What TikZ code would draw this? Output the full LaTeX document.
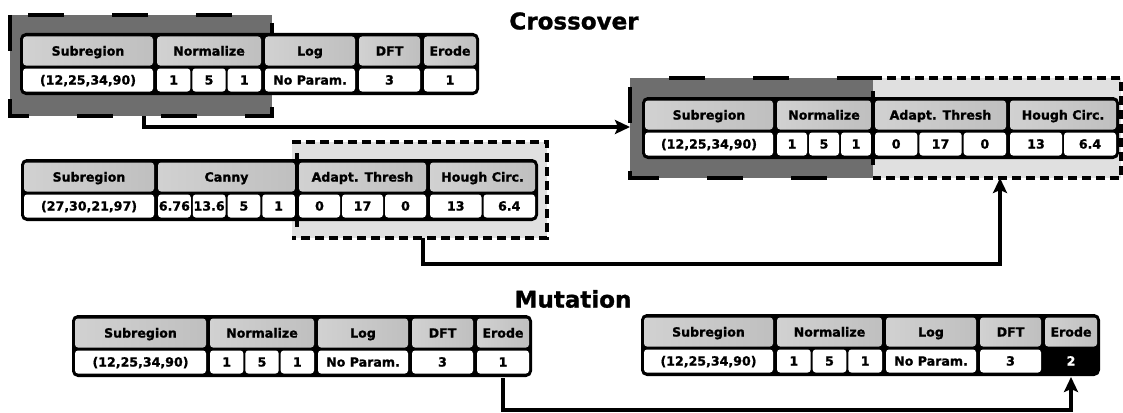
\documentclass[tikz,border=0pt]{standalone}
\usepackage{fontspec}
\setmainfont{DejaVu Sans}[BoldFeatures={FakeBold=1.2}]
\usetikzlibrary{arrows.meta}
\usetikzlibrary{positioning}
\usetikzlibrary{calc}

\tikzset{
  chromo/.style={fill=black, draw=black, line width=2pt, rounded corners=5pt},
  headcell/.style={left color=black!18, right color=black!25, rounded corners=3pt},
  valcell/.style={fill=white, rounded corners=3pt},
  genetext/.style={inner sep=0pt, text height=9.1pt, text depth=0pt,
    font=\fontsize{12.6}{14}\selectfont\bfseries},
  valtext/.style={genetext},
  darkbox/.style={fill=black!57},
  lightbox/.style={fill=black!12},
  longdash/.style={line width=4pt, dash pattern=on 36pt off 48pt},
  shortdash/.style={line width=4pt, dash pattern=on 9pt off 5pt},
  flow/.style={line width=4pt, -{Stealth[length=15pt,width=14pt,inset=3pt]}},
  title/.style={inner sep=0pt, font=\fontsize{23}{26}\selectfont\bfseries},
}

% \gene{name}{left}{right}{top}{header}{number of cells}{values}
\newcommand{\gene}[7]{%
  \pgfmathsetmacro{\geneL}{#2+2}%
  \pgfmathsetmacro{\geneR}{#3-2}%
  \path[headcell] (\geneL,#4+2.5) rectangle (\geneR,#4+31.5);
  \node[genetext] (#1-h) at ({(#2+#3)/2},#4+17) {#5};
  \pgfmathsetmacro{\cellW}{(\geneR-\geneL-(#6-1)*2)/#6}%
  \foreach \v [count=\i from 0] in {#7} {
    \pgfmathsetmacro{\cellL}{\geneL+\i*(\cellW+2)}
    \pgfmathsetmacro{\cellR}{\cellL+\cellW}
    \path[valcell] (\cellL,#4+34.5) rectangle (\cellR,#4+57.5);
    \node[valtext] (#1-\i) at ({(\cellL+\cellR)/2},#4+46) {\v};
  }%
}

\begin{document}
\begin{tikzpicture}[x=1pt,y=-1pt]
  \useasboundingbox (0,0) rectangle (1123,412);

  \node[title] (xtitle) at (574,21) {Crossover};
  \node[title] (mtitle) at (573,299) {Mutation};

  % first parent, head part kept
  \path[darkbox] (10,15) rectangle (272,116);
  \draw[longdash] (10,15) rectangle (272,116);
  \path[chromo] (21,34) rectangle (478,94);
  \gene{pa}{21}{155}{34}{Subregion}{1}{{(12,25,34,90)}}
  \gene{pb}{155}{263}{34}{Normalize}{3}{1,5,1}
  \gene{pc}{263}{357}{34}{Log}{1}{No Param.}
  \gene{pd}{357}{422}{34}{DFT}{1}{3}
  \gene{pe}{422}{478}{34}{Erode}{1}{1}
  \coordinate (p1out) at (144,116);

  % second parent, tail part kept
  \path[lightbox] (292,142) rectangle (547,238);
  \draw[shortdash] (292,142) -- (547,142) -- (547,238) -- (292,238);
  \path[chromo] (22,160) rectangle (537,220);
  \gene{qa}{22}{156}{160}{Subregion}{1}{{(27,30,21,97)}}
  \gene{qb}{156}{297}{160}{Canny}{4}{6.76,13.6,5,1}
  \gene{qc}{297}{428}{160}{Adapt. Thresh}{3}{0,17,0}
  \gene{qd}{428}{537}{160}{Hough Circ.}{2}{13,6.4}
  \draw[line width=4pt] (297,153) -- (297,227);
  \coordinate (p2out) at (423,238);

  % child
  \path[darkbox] (630,78) rectangle (873,178);
  \path[lightbox] (873,78) rectangle (1121,178);
  \draw[longdash] (873,78) -- (630,78) -- (630,178) -- (873,178);
  \draw[shortdash] (873,78) -- (1121,78) -- (1121,178) -- (873,178);
  \path[chromo] (643,98) rectangle (1118,158);
  \gene{ca}{643}{775}{98}{Subregion}{1}{{(12,25,34,90)}}
  \gene{cb}{775}{873}{98}{Normalize}{3}{1,5,1}
  \gene{cc}{873}{1008}{98}{Adapt. Thresh}{3}{0,17,0}
  \gene{cd}{1008}{1118}{98}{Hough Circ.}{2}{13,6.4}
  \draw[line width=4pt] (873,91) -- (873,165);
  \coordinate (c1in) at (630,127);
  \coordinate (c2in) at (1000,178);

  \draw[flow] (p1out) |- (c1in);
  \draw[flow] (p2out) -- ++(0,26) -| (c2in);

  % mutation: before
  \path[chromo] (73,316) rectangle (531,376);
  \gene{ma}{73}{208}{316}{Subregion}{1}{{(12,25,34,90)}}
  \gene{mb}{208}{316}{316}{Normalize}{3}{1,5,1}
  \gene{mc}{316}{410}{316}{Log}{1}{No Param.}
  \gene{md}{410}{475}{316}{DFT}{1}{3}
  \gene{me}{475}{531}{316}{Erode}{1}{1}

  % mutation: after
  \path[chromo] (642,315) rectangle (1099,375);
  \gene{na}{642}{775}{315}{Subregion}{1}{{(12,25,34,90)}}
  \gene{nb}{775}{884}{315}{Normalize}{3}{1,5,1}
  \gene{nc}{884}{978}{315}{Log}{1}{No Param.}
  \gene{nd}{978}{1043}{315}{DFT}{1}{3}
  \begin{scope}[valcell/.style={fill=black}, valtext/.append style={text=white}]
    \gene{ne}{1043}{1099}{315}{Erode}{1}{2}
  \end{scope}

  \draw[flow] (me-0.south) ++(0,11.5) -- ++(0,32) -| (ne-0.south |- 0,377);
\end{tikzpicture}
\end{document}
